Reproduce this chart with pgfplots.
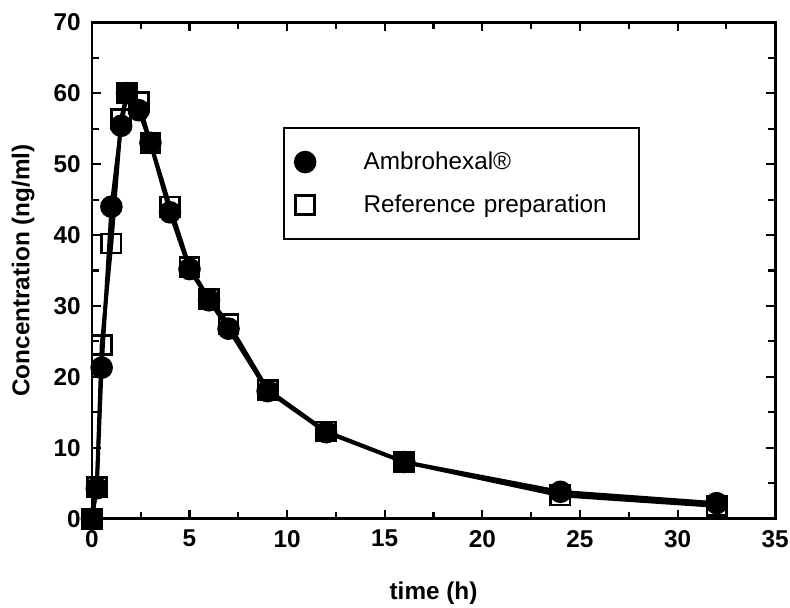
\documentclass[border=0pt]{standalone}
\usepackage{fontspec}
\setmainfont{Liberation Sans}
\usepackage{pgfplots}
\pgfplotsset{compat=1.18}
\usetikzlibrary{calc}

% plasma levels
\pgfplotstableread{
t    c
0    0
0.25 4.3
0.5  21.3
1.0  44.0
1.5  55.4
1.8  60.0
2.4  57.6
3.0  53.0
4.0  43.2
5.0  35.2
6.0  30.8
7.0  26.8
9.0  18.0
12.0 12.2
16.0 8.0
24.0 3.8
32.0 2.2
}\ambro
\pgfplotstableread{
t    c
0    0
0.25 4.5
0.5  24.5
1.0  38.8
1.5  56.4
1.8  60.0
2.4  58.7
3.0  53.0
4.0  44.0
5.0  35.5
6.0  31.0
7.0  27.5
9.0  18.2
12.0 12.3
16.0 8.0
24.0 3.3
32.0 1.8
}\refprep

\begin{document}
\begin{tikzpicture}
\begin{axis}[
  scale only axis,
  width=13.83cm, height=10.05cm,
  xmin=0, xmax=35, ymin=0, ymax=70,
  xtick={0,5,...,35}, ytick={0,10,...,70},
  minor x tick num=1, minor y tick num=1,
  axis line style={line width=1.6pt},
  major tick length=5pt, minor tick length=4pt,
  every tick/.style={black, line width=1.2pt},
  tick align=inside,
  tick label style={font=\fontsize{14}{16}\selectfont\bfseries},
  xticklabel style={yshift=-3pt},
  yticklabel style={xshift=-3pt},
  /pgf/number format/assume math mode=true,
  xlabel={\bfseries time (h)},
  ylabel={\bfseries Concentration (ng/ml)},
  label style={font=\fontsize{14}{16}\selectfont},
  xlabel style={yshift=-13pt},
  ylabel style={yshift=4pt},
  legend style={at={(axis cs:9.8,55.3)}, anchor=north west,
    draw=black, line width=1.3pt, font=\fontsize{14}{16}\selectfont,
    text width=5.3cm, row sep=9pt, column sep=0.9cm,
    inner xsep=6pt, inner ysep=12pt,
    legend cell align=left},
  legend image code/.code={\draw[#1, line width=1.2pt] plot coordinates {(0.2cm,0cm)};},
  clip=false,
]
\addplot[black, line width=2.2pt, mark=*, mark size=6pt,
  mark options={fill=black, line width=1pt}] table[x=t, y=c] {\ambro};
\addlegendentry{Ambrohexal\textregistered}
\addplot[black, line width=2.2pt, mark=square, mark size=5.5pt,
  mark options={line width=1.6pt}] table[x=t, y=c] {\refprep};
\addlegendentry{Reference preparation}
\end{axis}
\pgfresetboundingbox
\path[use as bounding box] ($(current axis.south west)+(-1.86cm,-1.80cm)$)
  rectangle ($(current axis.north east)+(0.30cm,0.45cm)$);
\end{tikzpicture}
\end{document}
